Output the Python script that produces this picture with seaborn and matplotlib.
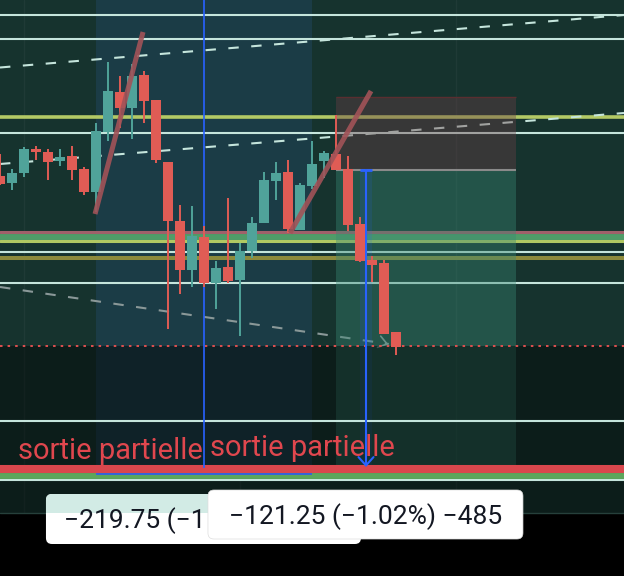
import numpy as np
import seaborn as sns
import matplotlib.pyplot as plt
from matplotlib.patches import FancyBboxPatch, Rectangle

# OHLC prices of the candles (one candle per index)
opens = [11912, 11908.5, 11913.5, 11925.5, 11924, 11919.5, 11922, 11915.5, 11904, 11934,
         11954, 11946, 11962.5, 11950, 11919, 11889.5, 11865, 11881.5, 11858.5, 11866.5,
         11860, 11874.5, 11888.5, 11909.5, 11914, 11885, 11907, 11919.5, 11923, 11915.5,
         11888, 11870, 11868.5, 11834]
highs = [11923, 11915.5, 11926.5, 11927, 11925.5, 11925.5, 11927, 11916.5, 11938.5, 11969,
         11962, 11968, 11964.5, 11950, 11919, 11897.5, 11897, 11887, 11869.5, 11901,
         11878.5, 11891.5, 11914, 11919, 11920, 11908.5, 11929.5, 11924.5, 11942.5, 11922,
         11891.5, 11872, 11870, 11834]
lows = [11907.5, 11905, 11911.5, 11920, 11910, 11917, 11910, 11902.5, 11894, 11929.5,
        11936, 11930.5, 11938.5, 11918.5, 11835.5, 11853, 11856.5, 11856.5, 11845.5, 11858.5,
        11832, 11871, 11888.5, 11900, 11883.5, 11885, 11905.5, 11911, 11915, 11884.5,
        11869, 11859, 11833, 11822.5]
closes = [11908, 11913.5, 11925.5, 11924, 11919, 11921.5, 11915, 11904, 11934.5, 11954.5,
          11946, 11962, 11949.5, 11920, 11889.5, 11865, 11882, 11858.5, 11866, 11859.5,
          11874.5, 11888.5, 11910, 11913.5, 11885.5, 11907.5, 11918, 11923.5, 11915, 11887.5,
          11869.5, 11867.5, 11833, 11826.5]

# horizontal levels
white_levels = [11992.5, 11980.5, 11933.5, 11874, 11858.5]
white_levels_low = [11789.5, 11760]
yellow_level = 11941.5
band_levels = [11884, 11881.5, 11879.5]   # pink, green, yellow-green
gold_level = 11871
stop_dotted = 11827
target_red = 11765.5
target_green = 11762

# slanted lines (x in candle index, y in price)
dash_up_x, dash_up_y = [0, 52], [11966.25, 11992.5]
dash_lo_x, dash_lo_y = [0, 52], [11918, 11943.5]
dash_gray_x, dash_gray_y = [0, 32.4], [11856.5, 11828]
trend1_x, trend1_y = [7.92, 11.92], [11893, 11984]
trend2_x, trend2_y = [24.17, 30.92], [11883.5, 11954.5]

# zones
range_start, range_end = 8, 26
pos_start, pos_end = 28, 43
pos_entry, pos_stop = 11915, 11951.5

labels = ['sortie partielle', 'sortie partielle']
label_x = [1.5, 17.5]
label_y = [11770.5, 11772]
box_texts = ['\u2212219.75 (\u22121', '\u2212121.25 (\u22121.02%) \u2212485']

sns.set_theme(style='dark')
plt.rcParams['font.family'] = ['Roboto', 'DejaVu Sans']

fig = plt.figure(figsize=(6.24, 5.76), dpi=100)
ax = fig.add_axes([0, 0, 1, 1])
ax.set_xlim(0, 52)
ax.set_ylim(11712, 12000)
ax.set_facecolor('#16332e')
for s in ax.spines.values():
    s.set_visible(False)
ax.set_xticks([])
ax.set_yticks([])
ax.grid(False)

# faint vertical grid
for gx in [2, 20, 38]:
    ax.axvline(gx, color='#ffffff', alpha=0.04, lw=1, zorder=0.5)

# date range highlight
ax.add_patch(Rectangle((range_start, 11763.25), range_end - range_start, 12000 - 11763.25,
                       color='#1b3c46', lw=0, zorder=1))

# horizontal lines
for lv in white_levels:
    ax.axhline(lv, color='#c5e5dc', lw=1.5, zorder=2)
ax.axhline(yellow_level, color='#b3c965', lw=2.6, zorder=2)
ax.axhline(band_levels[1], color='#4f9c68', lw=4.3, zorder=2)
ax.axhline(band_levels[0], color='#a0606a', lw=2.2, zorder=2.1)
ax.axhline(band_levels[2], color='#b0c862', lw=2.2, zorder=2.1)
ax.axhline(gold_level, color='#8c8a3c', lw=2.9, zorder=2)

sns.lineplot(x=dash_up_x, y=dash_up_y, ax=ax, color='#c5e5dc', lw=1.5,
             linestyle=(0, (5, 6)), zorder=2)
sns.lineplot(x=dash_lo_x, y=dash_lo_y, ax=ax, color='#c5e5dc', lw=1.5,
             linestyle=(0, (5, 6)), zorder=2)
sns.lineplot(x=dash_gray_x, y=dash_gray_y, ax=ax, color='#8a9898', lw=1.5,
             linestyle=(0, (5, 6)), zorder=2)
ax.annotate('', xy=(dash_gray_x[1] + 0.2, dash_gray_y[1] - 0.6),
            xytext=(dash_gray_x[1] - 0.5, dash_gray_y[1] + 0.6),
            arrowprops=dict(arrowstyle='->,head_length=0.5,head_width=0.35',
                            color='#8a9898', lw=1.2), zorder=2)

# short position (stop / target zones)
ax.add_patch(Rectangle((pos_start, pos_entry), pos_end - pos_start, pos_stop - pos_entry,
                       color=(107/255, 63/255, 71/255), alpha=0.4, lw=0, zorder=3))
ax.add_patch(Rectangle((pos_start, target_red), pos_end - pos_start, pos_entry - target_red,
                       color=(57/255, 136/255, 116/255), alpha=0.4, lw=0, zorder=3))
ax.hlines(pos_stop, pos_start, pos_end, color='#5a2e30', lw=1, zorder=3.1)
ax.hlines(pos_entry, pos_start, pos_end, color='#8a8a8a', lw=1.5, zorder=3.1)
ax.add_patch(Rectangle((30, target_red), 1, pos_entry - target_red,
                       color='#2962ff', alpha=0.13, lw=0, zorder=3.5))

# darker lower part and bottom bar
ax.axhspan(11743.5, stop_dotted, color='black', alpha=0.42, lw=0, zorder=4)
ax.axhspan(11712, 11743.5, color='black', lw=0, zorder=4.5)
ax.axhline(11743.5, color='#26403b', lw=1, zorder=4.6)
ax.axhline(stop_dotted, color='#e05050', lw=1.4, linestyle=(0, (1.3, 2.6)), zorder=5)

for lv in white_levels_low:
    ax.axhline(lv, color='#c5e5dc', lw=1.5, zorder=5)
ax.axhline(target_green, color='#5ca65c', lw=4.3, zorder=5)
ax.axhline(target_red, color='#d9474d', lw=5.8, zorder=5.1)
ax.hlines(11763.25, range_start, range_end, color='#2f5ee6', lw=1.3, zorder=5.2)

# blue vertical markers
ax.vlines(17, 11766, 12000, color='#2962ff', lw=1.2, zorder=5.5)
ax.annotate('', xy=(30.5, 11766.5), xytext=(30.5, pos_entry),
            arrowprops=dict(arrowstyle='->,head_length=0.5,head_width=0.45',
                            color='#2962ff', lw=1.5, shrinkA=0, shrinkB=0), zorder=5.5)
ax.hlines(pos_entry, 30, 31, color='#2962ff', lw=2, zorder=5.6)

# candles
idx = np.arange(len(opens))
o = np.array(opens)
c = np.array(closes)
colors = np.where(c >= o, '#50a39a', '#e05c55')
ax.vlines(idx, lows, highs, colors=colors, lw=1.4, zorder=6)
ax.bar(idx, np.abs(c - o), bottom=np.minimum(o, c), width=10 / 12, color=colors,
       lw=0, zorder=6.1)

# trend lines
sns.lineplot(x=trend1_x, y=trend1_y, ax=ax, color='#a25358', lw=3.6, alpha=0.9,
             solid_capstyle='butt', zorder=6.5)
sns.lineplot(x=trend2_x, y=trend2_y, ax=ax, color='#a25358', lw=3.6, alpha=0.9,
             solid_capstyle='butt', zorder=6.5)

for t, x, y in zip(labels, label_x, label_y):
    ax.text(x, y, t, color='#e0474e', fontsize=21, ha='left', va='baseline', zorder=7)

# value boxes
b1 = FancyBboxPatch((3.83, 11728), 26.25, 25, boxstyle='round,pad=0,rounding_size=0.5',
                    mutation_aspect=6, fc='white', ec='none', zorder=8)
ax.add_patch(b1)
top = Rectangle((3.83, 11743.5), 26.25, 10, fc='#d2ebe5', lw=0, zorder=8.1)
ax.add_patch(top)
top.set_clip_path(b1)
ax.text(5.33, 11736, box_texts[0], color='#131722', fontsize=19, ha='left',
        va='baseline', zorder=8.2)
b2 = FancyBboxPatch((17.33, 11730.5), 26.25, 24.5, boxstyle='round,pad=0,rounding_size=0.5',
                    mutation_aspect=6, fc='white', ec='#dddddd', lw=0.5, zorder=9)
ax.add_patch(b2)
ax.text(17.33 + 26.25 / 2, 11738, box_texts[1], color='#131722', fontsize=19, ha='center',
        va='baseline', zorder=9.1)

if ax.get_legend():
    ax.get_legend().remove()
fig.savefig('out.png', dpi=100, facecolor='black')
